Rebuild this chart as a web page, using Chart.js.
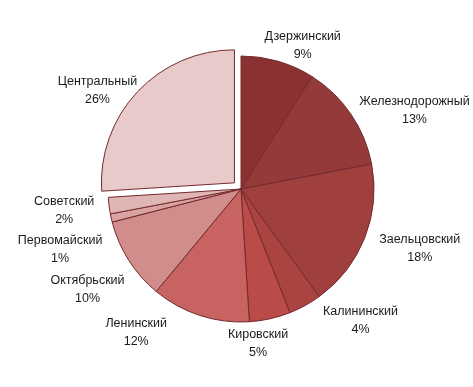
<!DOCTYPE html>
<html>
<head>
<meta charset="utf-8">
<script src="https://cdn.jsdelivr.net/npm/chart.js@4"></script>
<style>
html,body{margin:0;padding:0;background:#fff;}
#wrap{width:473px;height:387px;}
</style>
</head>
<body>
<div id="wrap"><canvas id="pie" width="473" height="387"></canvas></div>
<script>
const districts = ['Дзержинский','Железнодорожный','Заельцовский','Калининский','Кировский','Ленинский','Октябрьский','Первомайский','Советский','Центральный'];
const shares = [9, 13, 18, 4, 5, 12, 10, 1, 2, 26];
const sliceColors = ['#8a3232','#953a3a','#9f403f','#aa4441','#bb4b48','#c76361','#d18d8b','#d9a3a2','#e0b6b5','#e8caca'];
// chart.js moves an arc by offset/4
const explode = [0,0,0,0,0,0,0,0,0,36];

// nudges for label blocks where excel shuffled them around
const nudge = [[12,7],[12,10],[11,2],[34,-6],[-20,1],[-52,-6],[-4,16],[-3,26],[-8,2],[-6,15]];

const outsideLabels = {
  id:'outsideLabels',
  afterDatasetsDraw(chart){
    const ctx = chart.ctx;
    const meta = chart.getDatasetMeta(0);
    const total = shares.reduce((a,b)=>a+b,0);
    ctx.save();
    ctx.font = '12.5px "Liberation Sans", Arial, sans-serif';
    ctx.fillStyle = '#1a1a1a';
    ctx.textAlign = 'center';
    ctx.textBaseline = 'middle';
    meta.data.forEach((arc,i)=>{
      const p = arc.getProps(['x','y','startAngle','endAngle','outerRadius'], true);
      const mid = (p.startAngle + p.endAngle)/2;
      const dx = Math.cos(mid), dy = Math.sin(mid);
      const off = explode[i]/4;
      const line1 = districts[i];
      const line2 = Math.round(shares[i]/total*100) + '%';
      const w = Math.max(ctx.measureText(line1).width, ctx.measureText(line2).width);
      const h = 34;
      const r = p.outerRadius + 7 + off;
      const cx = p.x + dx*r + dx*w/2 + nudge[i][0];
      const cy = p.y + dy*r + dy*h/2 + nudge[i][1];
      ctx.fillText(line1, cx, cy - 9);
      ctx.fillText(line2, cx, cy + 9);
    });
    ctx.restore();
  }
};

new Chart(document.getElementById('pie'), {
  type:'pie',
  data:{
    labels: districts,
    datasets:[{
      data: shares,
      backgroundColor: sliceColors,
      borderColor: '#74292c',
      borderWidth: 1,
      offset: explode
    }]
  },
  options:{
    responsive:false,
    animation:false,
    radius: 133,
    layout:{padding:{left:9,right:0,top:0,bottom:9}},
    plugins:{legend:{display:false}, tooltip:{enabled:false}}
  },
  plugins:[outsideLabels]
});
</script>
</body>
</html>
